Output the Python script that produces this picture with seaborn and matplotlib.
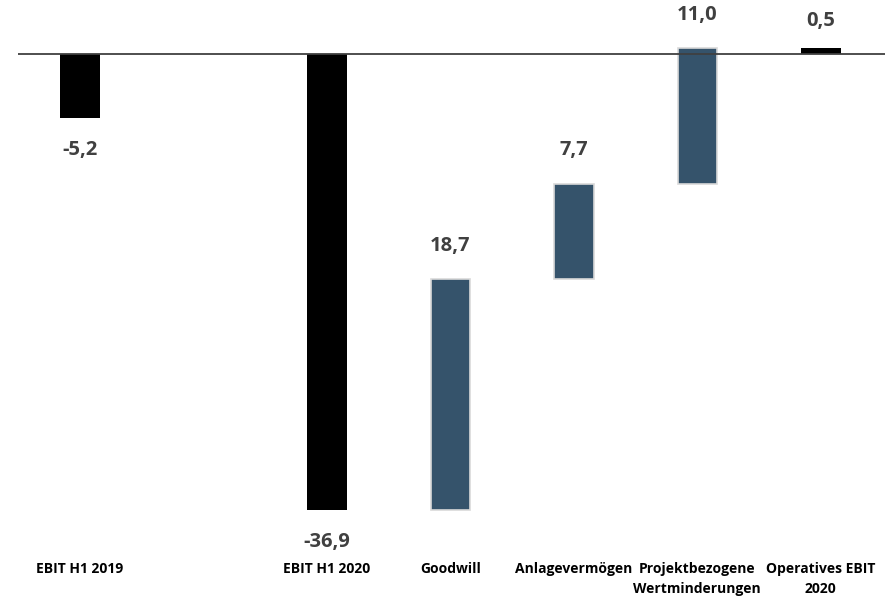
import numpy as np
import pandas as pd
import matplotlib
matplotlib.use("Agg")
import matplotlib.pyplot as plt
import seaborn as sns
from matplotlib import font_manager

# Chart data (EUR m)
categories = ["EBIT H1 2019", " ", "EBIT H1 2020", "Goodwill", "Anlagevermögen",
              "Projektbezogene\nWertminderungen", "Operatives EBIT\n2020"]
total_labels = ["EBIT H1 2019", "EBIT H1 2020", "Operatives EBIT\n2020"]
total_values = [-5.2, -36.9, 0.5]
delta_labels = ["Goodwill", "Anlagevermögen", "Projektbezogene\nWertminderungen"]
delta_values = [18.7, 7.7, 11.0]

sns.set_theme(style="white")
plt.rcParams["font.family"] = ["Open Sans", "DejaVu Sans"]

fig = plt.figure(figsize=(8.85, 5.97), dpi=100)
ax = fig.add_axes([18 / 885, 52 / 597, 867 / 885, 545 / 597])

totals = pd.DataFrame({"cat": total_labels, "value": total_values})
sns.barplot(data=totals, x="cat", y="value", order=categories, color="black",
            saturation=1, width=0.32, linewidth=0, ax=ax)

# floating bars start where the previous running total ended
pos = {c: i for i, c in enumerate(categories)}
start = total_values[1]
bottoms = []
for v in delta_values:
    bottoms.append(start)
    start += v
ax.bar([pos[c] for c in delta_labels], delta_values, bottom=bottoms, width=0.32,
       color="#35536b", edgecolor="#d9d9d9", linewidth=1.2, zorder=3)

ax.axhline(0, color="#404040", lw=1.3, zorder=4)

def fmt(v):
    return f"{v:.1f}".replace(".", ",")

for c, v in zip(total_labels, total_values):
    off = 19 if v > 0 else -23
    ax.annotate(fmt(v), (pos[c], v), xytext=(0, off), textcoords="offset points",
                ha="center", va="center", fontsize=14.5, fontweight="bold", color="#404040")
for c, v, b in zip(delta_labels, delta_values, bottoms):
    ax.annotate(fmt(v), (pos[c], b + v), xytext=(0, 24), textcoords="offset points",
                ha="center", va="center", fontsize=14.5, fontweight="bold", color="#404040")

ax.set_xlim(-0.5, 6.52)
ax.set_ylim(-39.72, 4.37)
ax.set_xlabel("")
ax.set_ylabel("")
ax.set_yticks([])
ax.tick_params(axis="x", length=0, pad=12)
for lab in ax.get_xticklabels():
    lab.set_fontweight("bold")
    lab.set_fontsize(10)
    lab.set_color("black")
    lab.set_multialignment("center")
    lab.set_linespacing(1.55)
sns.despine(ax=ax, left=True, bottom=True)

fig.savefig("out.png", dpi=100)
